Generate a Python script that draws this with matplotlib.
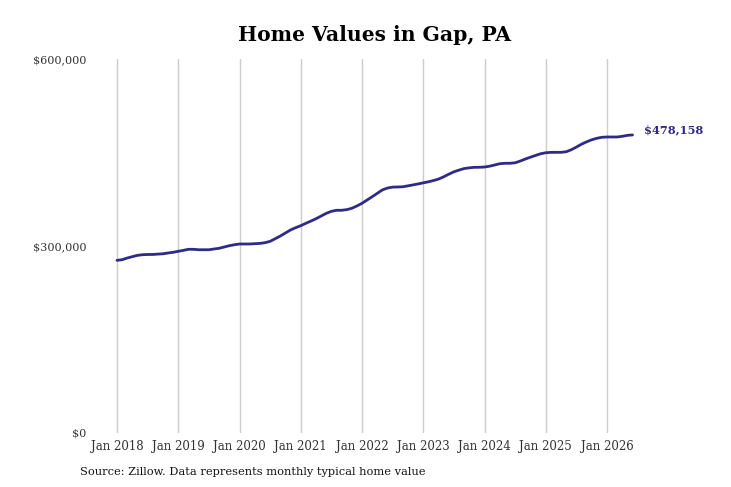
import matplotlib
matplotlib.use("Agg")
import matplotlib.pyplot as plt
import numpy as np

# Monthly typical home value, Jan 2018 .. Jun 2026
start_year = 2018
values = [
    277000, 278000, 280700, 282900, 285000, 286000, 286400, 286400, 287000, 287500, 288800, 289900,  # 2018
    291500, 293000, 294700, 294700, 294000, 294000, 294000, 295200, 296300, 298400, 300500, 302000,  # 2019
    303200, 303200, 303200, 303700, 304200, 305300, 307500, 311700, 316000, 320900, 325700, 329400,  # 2020
    332600, 336400, 340000, 343800, 348100, 352400, 355600, 357300, 357300, 358300, 360500, 364200,  # 2021
    368500, 373800, 379100, 384500, 390000, 393000, 394500, 394700, 395000, 396500, 398000, 399600,  # 2022
    401300, 403000, 405000, 407400, 411000, 415200, 419000, 421800, 424200, 425400, 426200, 426300,  # 2023
    426700, 428000, 430000, 432000, 432700, 432700, 433500, 436300, 439500, 442500, 445300, 448000,  # 2024
    449600, 450200, 450300, 450300, 451200, 454400, 458700, 463300, 467100, 470400, 472800, 474400,  # 2025
    474900, 474900, 474900, 476000, 477500, 478158,                                                  # 2026
]
tick_years = [2018, 2019, 2020, 2021, 2022, 2023, 2024, 2025, 2026]
tick_labels = ["Jan %d" % y for y in tick_years]
y_ticks = [0, 300000, 600000]
y_labels = ["$0", "$300,000", "$600,000"]
end_label = "$478,158"

dates = start_year + np.arange(len(values)) / 12.0

W, H = 731, 487
fig = plt.figure(figsize=(W / 100, H / 100), dpi=100)
l, r, t, b = 95, 715, 59, 433
ax = fig.add_axes([l / W, 1 - b / H, (r - l) / W, (b - t) / H])

line_color = "#2e2a86"
ax.plot(dates, values, color=line_color, lw=2.0, solid_capstyle="round",
        solid_joinstyle="round")

px_per_year = (607 - 117) / 8
ax.set_xlim(2018 - (117 - l) / px_per_year, 2026 + (r - 607) / px_per_year)
ax.set_ylim(0, 600000)

ax.set_xticks(tick_years)
ax.set_xticklabels(tick_labels, family="DejaVu Serif", fontsize=8.5, color="#333333")
ax.set_yticks(y_ticks)
ax.set_yticklabels(y_labels, family="DejaVu Serif", fontsize=8.1, color="#333333")
ax.tick_params(axis="both", length=0)
ax.tick_params(axis="x", pad=5)
ax.tick_params(axis="y", pad=6)

ax.grid(axis="x", color="#cccccc", lw=1)
ax.grid(axis="y", visible=False)
for s in ax.spines.values():
    s.set_visible(False)

ax.annotate(end_label, xy=(dates[-1], values[-1]), xytext=(8, 3.6),
            textcoords="offset points", color=line_color, fontsize=8.2,
            fontweight="bold", family="DejaVu Serif", va="center", ha="left")

fig.text(375 / W, 1 - 35 / H, "Home Values in Gap, PA", ha="center", va="center",
         family="DejaVu Serif", fontweight="bold", fontsize=14.6)
fig.text(80 / W, 1 - 472 / H, "Source: Zillow. Data represents monthly typical home value",
         ha="left", va="center", family="DejaVu Serif", fontsize=8.2, color="#111111")

fig.savefig("out.png", dpi=100)
